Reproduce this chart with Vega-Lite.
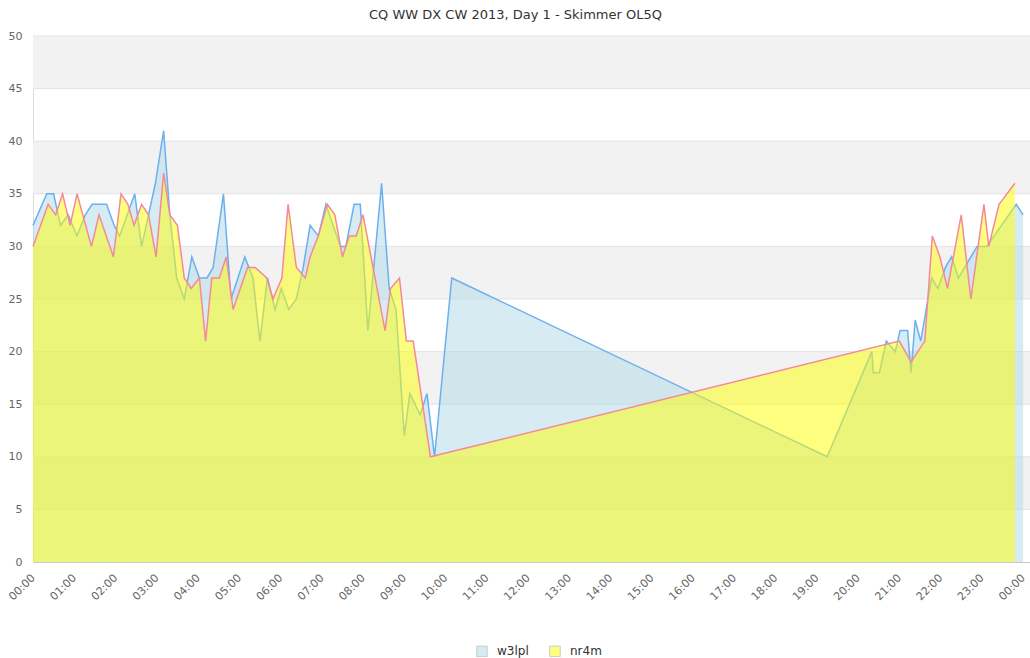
{
  "$schema": "https://vega.github.io/schema/vega-lite/v6.json",
  "autosize": {"type": "none"},
  "padding": {"left": 33, "top": 36, "right": 0, "bottom": 96},
  "width": 997,
  "height": 526,
  "background": "white",
  "title": {"text": "CQ WW DX CW 2013, Day 1 - Skimmer OL5Q", "font": "DejaVu Sans", "fontSize": 13, "fontWeight": "normal", "color": "#333333", "offset": 8, "dx": -16},
  "config": {"view": {"stroke": null}, "font": "DejaVu Sans", "axis": {"grid": false, "ticks": false}},
  "datasets": {
    "bands": [{"a": 5, "b": 10}, {"a": 15, "b": 20}, {"a": 25, "b": 30}, {"a": 35, "b": 40}, {"a": 45, "b": 50}],
    "grid": [{"g": 5}, {"g": 10}, {"g": 15}, {"g": 20}, {"g": 25}, {"g": 30}, {"g": 35}, {"g": 40}, {"g": 45}, {"g": 50}],
    "pts": [
      {"s": "w3lpl", "m": 0, "v": 32}, {"s": "w3lpl", "m": 20, "v": 35}, {"s": "w3lpl", "m": 30, "v": 35}, {"s": "w3lpl", "m": 40, "v": 32},
      {"s": "w3lpl", "m": 51, "v": 33}, {"s": "w3lpl", "m": 64, "v": 31}, {"s": "w3lpl", "m": 76, "v": 33}, {"s": "w3lpl", "m": 86, "v": 34},
      {"s": "w3lpl", "m": 107, "v": 34}, {"s": "w3lpl", "m": 118, "v": 32}, {"s": "w3lpl", "m": 126, "v": 31}, {"s": "w3lpl", "m": 148, "v": 35},
      {"s": "w3lpl", "m": 158, "v": 30}, {"s": "w3lpl", "m": 168, "v": 33}, {"s": "w3lpl", "m": 178, "v": 36}, {"s": "w3lpl", "m": 190, "v": 41},
      {"s": "w3lpl", "m": 199, "v": 33}, {"s": "w3lpl", "m": 209, "v": 27}, {"s": "w3lpl", "m": 220, "v": 25}, {"s": "w3lpl", "m": 231, "v": 29},
      {"s": "w3lpl", "m": 242, "v": 27}, {"s": "w3lpl", "m": 253, "v": 27}, {"s": "w3lpl", "m": 262, "v": 28}, {"s": "w3lpl", "m": 277, "v": 35},
      {"s": "w3lpl", "m": 288, "v": 25}, {"s": "w3lpl", "m": 308, "v": 29}, {"s": "w3lpl", "m": 320, "v": 27}, {"s": "w3lpl", "m": 330, "v": 21},
      {"s": "w3lpl", "m": 341, "v": 27}, {"s": "w3lpl", "m": 352, "v": 24}, {"s": "w3lpl", "m": 361, "v": 26}, {"s": "w3lpl", "m": 372, "v": 24},
      {"s": "w3lpl", "m": 383, "v": 25}, {"s": "w3lpl", "m": 393, "v": 28}, {"s": "w3lpl", "m": 403, "v": 32}, {"s": "w3lpl", "m": 415, "v": 31},
      {"s": "w3lpl", "m": 426, "v": 34}, {"s": "w3lpl", "m": 447, "v": 30}, {"s": "w3lpl", "m": 455, "v": 30}, {"s": "w3lpl", "m": 467, "v": 34},
      {"s": "w3lpl", "m": 476, "v": 34}, {"s": "w3lpl", "m": 487, "v": 22}, {"s": "w3lpl", "m": 507, "v": 36}, {"s": "w3lpl", "m": 518, "v": 26},
      {"s": "w3lpl", "m": 528, "v": 24}, {"s": "w3lpl", "m": 540, "v": 12}, {"s": "w3lpl", "m": 548, "v": 16}, {"s": "w3lpl", "m": 563, "v": 14},
      {"s": "w3lpl", "m": 573, "v": 16}, {"s": "w3lpl", "m": 584, "v": 10}, {"s": "w3lpl", "m": 609, "v": 27}, {"s": "w3lpl", "m": 1155, "v": 10},
      {"s": "w3lpl", "m": 1220, "v": 20}, {"s": "w3lpl", "m": 1222, "v": 18}, {"s": "w3lpl", "m": 1231, "v": 18}, {"s": "w3lpl", "m": 1241, "v": 21},
      {"s": "w3lpl", "m": 1254, "v": 20}, {"s": "w3lpl", "m": 1261, "v": 22}, {"s": "w3lpl", "m": 1272, "v": 22}, {"s": "w3lpl", "m": 1277, "v": 18},
      {"s": "w3lpl", "m": 1283, "v": 23}, {"s": "w3lpl", "m": 1291, "v": 21}, {"s": "w3lpl", "m": 1307, "v": 27}, {"s": "w3lpl", "m": 1316, "v": 26},
      {"s": "w3lpl", "m": 1327, "v": 28}, {"s": "w3lpl", "m": 1336, "v": 29}, {"s": "w3lpl", "m": 1346, "v": 27}, {"s": "w3lpl", "m": 1373, "v": 30},
      {"s": "w3lpl", "m": 1387, "v": 30}, {"s": "w3lpl", "m": 1430, "v": 34}, {"s": "w3lpl", "m": 1440, "v": 33},
      {"s": "nr4m", "m": 0, "v": 30}, {"s": "nr4m", "m": 22, "v": 34}, {"s": "nr4m", "m": 33, "v": 33}, {"s": "nr4m", "m": 43, "v": 35},
      {"s": "nr4m", "m": 54, "v": 32}, {"s": "nr4m", "m": 64, "v": 35}, {"s": "nr4m", "m": 85, "v": 30}, {"s": "nr4m", "m": 96, "v": 33},
      {"s": "nr4m", "m": 117, "v": 29}, {"s": "nr4m", "m": 128, "v": 35}, {"s": "nr4m", "m": 138, "v": 34}, {"s": "nr4m", "m": 147, "v": 32},
      {"s": "nr4m", "m": 158, "v": 34}, {"s": "nr4m", "m": 168, "v": 33}, {"s": "nr4m", "m": 179, "v": 29}, {"s": "nr4m", "m": 190, "v": 37},
      {"s": "nr4m", "m": 199, "v": 33}, {"s": "nr4m", "m": 210, "v": 32}, {"s": "nr4m", "m": 220, "v": 27}, {"s": "nr4m", "m": 230, "v": 26},
      {"s": "nr4m", "m": 242, "v": 27}, {"s": "nr4m", "m": 251, "v": 21}, {"s": "nr4m", "m": 260, "v": 27}, {"s": "nr4m", "m": 271, "v": 27},
      {"s": "nr4m", "m": 281, "v": 29}, {"s": "nr4m", "m": 291, "v": 24}, {"s": "nr4m", "m": 312, "v": 28}, {"s": "nr4m", "m": 323, "v": 28},
      {"s": "nr4m", "m": 340, "v": 27}, {"s": "nr4m", "m": 349, "v": 25}, {"s": "nr4m", "m": 362, "v": 27}, {"s": "nr4m", "m": 371, "v": 34},
      {"s": "nr4m", "m": 383, "v": 28}, {"s": "nr4m", "m": 396, "v": 27}, {"s": "nr4m", "m": 403, "v": 29}, {"s": "nr4m", "m": 415, "v": 31},
      {"s": "nr4m", "m": 428, "v": 34}, {"s": "nr4m", "m": 439, "v": 33}, {"s": "nr4m", "m": 450, "v": 29}, {"s": "nr4m", "m": 460, "v": 31},
      {"s": "nr4m", "m": 470, "v": 31}, {"s": "nr4m", "m": 480, "v": 33}, {"s": "nr4m", "m": 512, "v": 22}, {"s": "nr4m", "m": 520, "v": 26},
      {"s": "nr4m", "m": 533, "v": 27}, {"s": "nr4m", "m": 543, "v": 21}, {"s": "nr4m", "m": 553, "v": 21}, {"s": "nr4m", "m": 578, "v": 10},
      {"s": "nr4m", "m": 1260, "v": 21}, {"s": "nr4m", "m": 1277, "v": 19}, {"s": "nr4m", "m": 1297, "v": 21}, {"s": "nr4m", "m": 1308, "v": 31},
      {"s": "nr4m", "m": 1319, "v": 29}, {"s": "nr4m", "m": 1330, "v": 26}, {"s": "nr4m", "m": 1350, "v": 33}, {"s": "nr4m", "m": 1364, "v": 25},
      {"s": "nr4m", "m": 1383, "v": 34}, {"s": "nr4m", "m": 1390, "v": 30}, {"s": "nr4m", "m": 1405, "v": 34}, {"s": "nr4m", "m": 1428, "v": 36}
    ]
  },
  "layer": [
    {
      "data": {"name": "bands"},
      "mark": {"type": "rect", "color": "#f2f2f2"},
      "encoding": {
        "y": {"field": "a", "type": "quantitative", "title": null, "scale": {"domain": [0, 50], "nice": false},
          "axis": {"title": null, "values": [0, 5, 10, 15, 20, 25, 30, 35, 40, 45, 50], "ticks": false, "grid": false, "domain": true, "domainColor": "#dddddd",
            "labelPadding": 11, "labelFontSize": 11, "labelColor": "#666666", "labelFont": "DejaVu Sans"}},
        "y2": {"field": "b"}
      }
    },
    {
      "data": {"name": "grid"},
      "mark": {"type": "rule", "color": "#e3e3e3", "strokeWidth": 1},
      "encoding": {
        "y": {"field": "g", "type": "quantitative", "title": null}
      }
    },
    {
      "data": {"name": "pts"},
      "transform": [{"filter": "datum.s === 'w3lpl'"}],
      "mark": {"type": "area", "opacity": 0.5, "interpolate": "linear"},
      "encoding": {
        "x": {"field": "m", "type": "quantitative", "title": null, "scale": {"domain": [0, 1450], "nice": false, "zero": false},
          "axis": {"title": null, "values": [0, 60, 120, 180, 240, 300, 360, 420, 480, 540, 600, 660, 720, 780, 840, 900, 960, 1020, 1080, 1140, 1200, 1260, 1320, 1380, 1440],
            "labelExpr": "(floor(datum.value/60)%24 < 10 ? '0' : '') + (floor(datum.value/60)%24) + ':00'",
            "labelAngle": -45, "labelAlign": "right", "labelBaseline": "middle", "labelPadding": 14, "labelFontSize": 11, "labelColor": "#666666",
            "ticks": false, "grid": false, "domainColor": "#c8c8c8", "labelFont": "DejaVu Sans"}},
        "y": {"field": "v", "type": "quantitative", "stack": null, "title": null},
        "color": {"field": "s", "type": "nominal", "scale": {"domain": ["w3lpl", "nr4m"], "range": ["#add8e6", "#ffff00"]},
          "legend": {"title": null, "orient": "none", "legendX": 443, "legendY": 609, "direction": "horizontal", "symbolType": "square", "symbolSize": 110,
            "symbolStrokeColor": "#999999", "symbolStrokeWidth": 1, "symbolOpacity": 0.5, "labelFontSize": 12, "labelColor": "#333333", "labelFont": "DejaVu Sans", "columnPadding": 18, "labelOffset": 9}}
      }
    },
    {
      "data": {"name": "pts"},
      "transform": [{"filter": "datum.s === 'w3lpl'"}],
      "mark": {"type": "line", "color": "#6cb0f0", "strokeWidth": 1.5},
      "encoding": {
        "x": {"field": "m", "type": "quantitative", "title": null},
        "y": {"field": "v", "type": "quantitative", "title": null}
      }
    },
    {
      "data": {"name": "pts"},
      "transform": [{"filter": "datum.s === 'nr4m'"}],
      "mark": {"type": "area", "opacity": 0.5, "interpolate": "linear"},
      "encoding": {
        "x": {"field": "m", "type": "quantitative", "title": null},
        "y": {"field": "v", "type": "quantitative", "stack": null, "title": null},
        "color": {"field": "s", "type": "nominal"}
      }
    },
    {
      "data": {"name": "pts"},
      "transform": [{"filter": "datum.s === 'nr4m'"}],
      "mark": {"type": "line", "color": "#f4899c", "strokeWidth": 1.5},
      "encoding": {
        "x": {"field": "m", "type": "quantitative", "title": null},
        "y": {"field": "v", "type": "quantitative", "title": null}
      }
    }
  ]
}
